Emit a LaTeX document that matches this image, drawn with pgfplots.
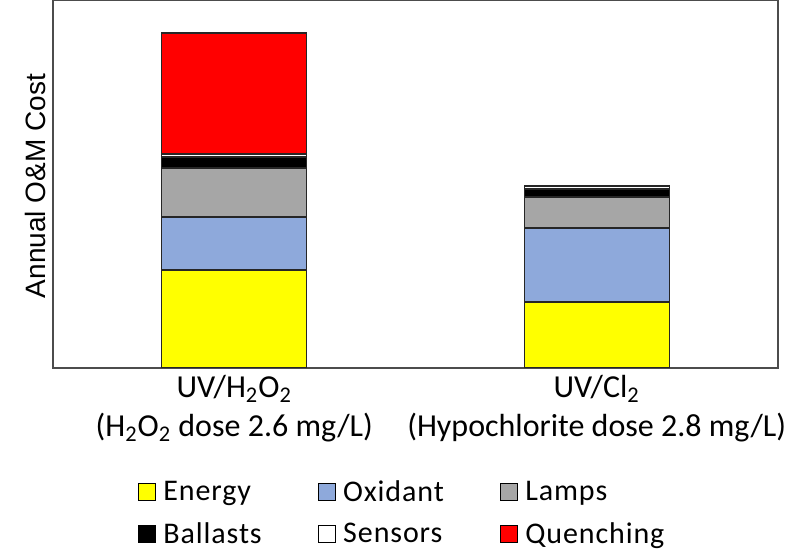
\documentclass[border=0pt]{standalone}
\usepackage{fontspec}
\setmainfont{Carlito}
\newfontfamily\arialfont{Liberation Sans}
\newfontfamily\legfont[LetterSpace=3]{Carlito}
\usepackage{pgfplots}
\pgfplotsset{compat=1.18}
\usetikzlibrary{calc}

\definecolor{cEnergy}{HTML}{FFFF00}
\definecolor{cOxid}{HTML}{8EA9DB}
\definecolor{cLamps}{HTML}{A6A6A6}
\definecolor{cBall}{HTML}{000000}
\definecolor{cSens}{HTML}{FFFFFF}
\definecolor{cQuen}{HTML}{FF0000}

\begin{document}
\begin{tikzpicture}
\begin{axis}[name=ax,
  width=362.5pt, height=184pt, scale only axis,
  ybar stacked, bar width=0.4,
  xmin=-0.5, xmax=1.5, ymin=0, ymax=368,
  xtick={0,1}, ytick=\empty,
  xticklabels={{UV/H\textsubscript{2}O\textsubscript{2}\\(H\textsubscript{2}O\textsubscript{2} dose 2.6 mg/L)},
               {UV/Cl\textsubscript{2}\\(Hypochlorite dose 2.8 mg/L)}},
  xticklabel style={align=center, font=\fontsize{16}{19.5}\selectfont},
  major tick length=0pt,
  axis line style={black!70, line width=0.6pt},
  ylabel={Annual O\&M Cost},
  ylabel style={font=\arialfont\fontsize{14}{16}\selectfont,
    at={(axis description cs:0,0.5)}, anchor=south, xshift=-1pt},
  every axis plot/.append style={draw=black!85, line width=0.6pt},
  legend style={at={(0.483,-0.283)}, anchor=north, draw=none,
    font=\legfont\fontsize{15}{17}\selectfont, legend columns=3,
    /tikz/every even column/.append style={column sep=26pt},
    row sep=5pt},
  legend cell align=left,
  legend image code/.code={\draw[#1, draw=black, line width=0.5pt] (0pt,-4.25pt) rectangle (8.5pt,4.25pt);
    \path[draw=none, fill=none] (8.5pt,0pt) -- (10.5pt,0pt);},
]
\addplot[fill=cEnergy] coordinates {(0,98) (1,66)};
\addplot[fill=cOxid] coordinates {(0,53) (1,74)};
\addplot[fill=cLamps] coordinates {(0,49) (1,31)};
\addplot[fill=cBall] coordinates {(0,11) (1,8)};
\addplot[fill=cSens] coordinates {(0,3) (1,3)};
\addplot[fill=cQuen] coordinates {(0,121) (1,0)};
\legend{Energy, Oxidant, Lamps, Ballasts, Sensors, Quenching}
\end{axis}
\pgfresetboundingbox
\path ($(ax.south west)+(-26.5pt,-91pt)$) rectangle ($(ax.north east)+(6.5pt,0pt)$);
\end{tikzpicture}
\end{document}
